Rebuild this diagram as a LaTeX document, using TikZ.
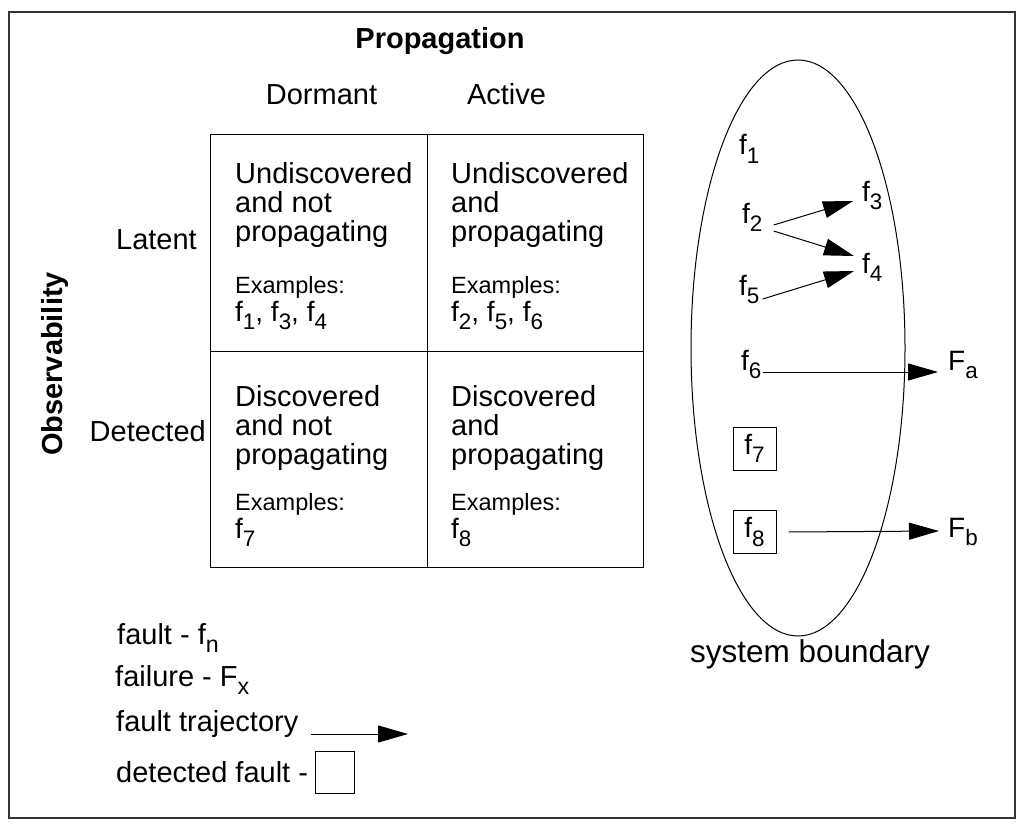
\documentclass[tikz,border=0pt]{standalone}
\usepackage{fontspec}
\setmainfont{Liberation Sans}
\usetikzlibrary{arrows.meta,shapes.geometric}
\newcommand\sub[1]{\raisebox{-0.3em}{\scalebox{0.8}{#1}}}
\newcommand\cellblock[8]{%
  \node[txt] (#1la) at (#2,#3) {#4};
  \node[txt] (#1lb) at (#2,#3+29) {#5};
  \node[txt] (#1lc) at (#2,#3+58) {#6};
  \node[small] (#1ex) at (#2,#7) {Examples:};
  \node[fl] (#1fs) at (#2,#7+28) {#8};
}
\begin{document}
\begin{tikzpicture}[x=1pt,y=-1pt,
  txt/.style={inner sep=0pt, anchor=base west, font=\fontsize{29}{29}\selectfont},
  bold/.style={inner sep=0pt, anchor=base, font=\fontsize{29}{29}\selectfont\bfseries},
  small/.style={inner sep=0pt, anchor=base west, font=\fontsize{23.5}{23.5}\selectfont},
  fl/.style={inner sep=0pt, anchor=base west, font=\fontsize{28}{28}\selectfont},
  arr/.style={-{Triangle[length=30pt,width=17pt]}, line width=1pt},
  fbox/.style={draw, line width=1pt, minimum width=43pt, minimum height=43pt, inner sep=0pt, font=\fontsize{28}{28}\selectfont},
  thin/.style={line width=1pt}
]
\useasboundingbox (0,0) rectangle (1026,832);
\draw[line width=1.5pt, black!80] (9,12) rectangle (1015,818);

% headers
\node[bold] (prop) at (440,49) {Propagation};
\node[txt, anchor=base] (dorm) at (321.5,105) {Dormant};
\node[txt, anchor=base] (act) at (506.5,105) {Active};
\node[txt, anchor=base east] (lat) at (197,249) {Latent};
\node[txt, anchor=base east] (det) at (206,441) {Detected};
\node[bold, rotate=90] (obs) at (62,364) {Observability};

% grid
\draw[thin] (210,135) rectangle (643,567);
\draw[thin] (427,135) -- (427,567);
\draw[thin] (210,351) -- (643,351);

\cellblock{ul}{235}{183}{Undiscovered}{and not}{propagating}{293}{f\sub1, f\sub3, f\sub4}
\cellblock{ur}{451}{183}{Undiscovered}{and}{propagating}{293}{f\sub2, f\sub5, f\sub6}
\cellblock{ll}{235}{406}{Discovered}{and not}{propagating}{510}{f\sub7}
\cellblock{lr}{451}{406}{Discovered}{and}{propagating}{510}{f\sub8}

% system
\node[ellipse, draw, thin, minimum width=214pt, minimum height=576pt, inner sep=0pt] (sys) at (798,348) {};
\node[inner sep=0pt, anchor=base, font=\fontsize{31.5}{31.5}\selectfont] (sb) at (810,662) {system boundary};

\node[fl] (f1) at (739,155) {f\sub1};
\node[fl] (f2) at (742,223) {f\sub2};
\node[fl] (f3) at (862,201) {f\sub3};
\node[fl] (f4) at (862,273) {f\sub4};
\node[fl] (f5) at (739,295) {f\sub5};
\node[fl] (f6) at (741,370) {f\sub6};
\node[fl] (Fa) at (948,370) {F\sub{a}};
\node[fbox] (f7) at (754.5,448.5) {f\sub7};
\node[fbox] (f8) at (754.5,532) {f\sub8};
\node[fl] (Fb) at (948,537) {F\sub{b}};

\draw[arr] ([shift={(11,2)}]f2.base east) -- ([shift={(-9,0)}]f3.base west);
\draw[arr] ([shift={(11,8)}]f2.base east) -- ([shift={(-8,-17)}]f4.base west);
\draw[arr] ([shift={(3,4)}]f5.base east) -- ([shift={(-8,-2)}]f4.base west);
\draw[arr] ([shift={(1,2)}]f6.base east) -- ([shift={(-10,2)}]Fa.base west);
\draw[arr] ([xshift=12pt]f8.east) -- ([shift={(-9,-6)}]Fb.base west);

% legend
\node[txt] (lf) at (117,644) {fault - f\sub{n}};
\node[txt] (lF) at (115,686) {failure - F\sub{x}};
\node[txt] (lt) at (116,731) {fault trajectory};
\node[txt] (ld) at (116,782) {detected fault -};
\node[draw, thin, minimum width=39pt, minimum height=42pt, inner sep=0pt] (ldb) at (334.5,772) {};
\coordinate (ltend) at (408,734);
\draw[arr] ([shift={(12,3)}]lt.base east) -- (ltend);
\end{tikzpicture}
\end{document}
